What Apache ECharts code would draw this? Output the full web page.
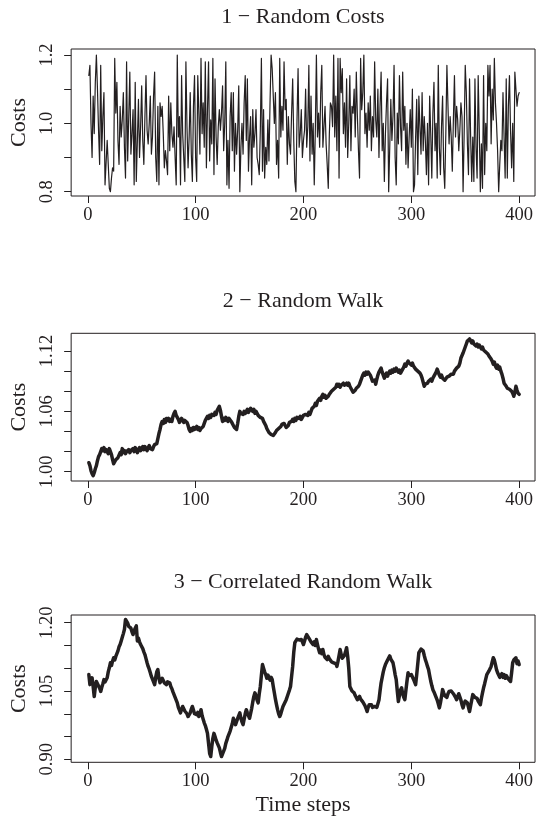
<!DOCTYPE html>
<html><head><meta charset="utf-8">
<script src="https://cdn.jsdelivr.net/npm/echarts@6/dist/echarts.min.js"></script>
<style>html,body{margin:0;padding:0;background:#fff}#c{width:536px;height:819px}</style>
</head><body><div id="c"></div>
<script>
const panelTitles = ['1 \u2212 Random Costs', '2 \u2212 Random Walk', '3 \u2212 Correlated Random Walk'];
const yAxisTitle = 'Costs';
const xAxisTitle = 'Time steps';

const randomCosts = [
1.14,1.17,1.00,0.90,1.08,0.97,1.12,1.20,1.10,0.98,
0.88,1.17,0.92,1.02,1.09,0.82,0.82,0.95,0.88,0.81,
0.80,0.84,0.87,0.86,1.19,1.03,1.12,0.95,0.88,1.05,
0.96,1.01,1.09,0.93,0.84,1.18,0.89,1.02,1.15,0.91,
0.97,1.04,0.82,1.12,0.83,0.95,1.07,0.90,0.99,1.11,
0.95,0.88,1.02,1.14,0.98,0.94,1.00,1.08,0.91,0.96,
1.08,1.15,0.90,0.83,1.05,0.82,1.06,1.02,1.05,0.97,
0.87,0.92,0.89,0.85,1.08,0.92,1.06,0.97,0.93,0.99,
0.90,0.82,1.20,0.96,1.02,0.82,1.14,0.97,0.90,0.83,
1.18,0.99,0.87,0.96,1.09,0.91,0.83,1.05,1.14,0.90,
0.83,1.14,1.03,0.91,1.19,0.97,1.06,0.93,1.18,0.87,
1.04,1.18,0.89,1.01,0.94,1.19,0.85,1.13,0.96,0.88,
0.99,1.04,0.98,1.03,1.11,0.92,1.00,1.18,0.82,0.95,
0.81,1.02,1.09,0.92,1.09,0.86,1.00,0.91,0.98,1.11,
0.80,0.93,1.00,0.91,1.06,1.14,0.95,1.13,0.86,0.96,
1.02,0.82,1.04,0.93,0.97,1.04,0.90,0.88,0.85,0.98,
1.19,0.86,1.04,0.84,0.93,0.88,1.01,0.89,1.06,1.20,
1.16,1.08,1.00,1.09,0.88,0.95,0.84,1.19,0.96,1.05,
0.98,1.18,1.04,1.07,0.88,1.02,0.94,0.91,1.03,1.13,
0.95,0.83,0.80,1.01,1.16,0.93,0.97,1.04,0.90,0.95,
0.98,1.10,0.93,0.99,1.17,0.89,1.08,0.91,1.00,0.82,
0.98,1.20,0.96,1.03,0.93,1.09,1.17,0.93,0.99,1.05,
0.94,0.88,0.81,0.97,1.06,1.05,0.99,1.20,0.96,1.08,
0.92,1.19,0.84,1.19,1.09,1.16,0.97,1.06,0.93,1.13,
0.90,1.00,1.14,0.92,1.05,1.03,1.10,0.96,1.15,1.02,
0.92,0.84,1.19,1.04,1.09,1.20,0.97,1.03,0.93,1.06,
0.98,1.08,0.92,1.02,0.96,1.18,1.01,0.96,1.10,0.90,
1.05,1.15,0.92,1.00,0.83,0.97,1.06,1.13,0.80,0.93,
1.07,0.95,1.02,1.17,0.90,0.82,1.03,0.94,1.14,0.99,
0.92,1.15,0.98,1.05,0.88,1.00,0.87,0.96,1.04,0.93,
1.10,0.80,0.82,0.96,1.07,0.85,1.08,0.99,0.91,1.09,
0.92,1.02,0.95,0.85,1.00,0.82,1.08,0.97,0.84,1.03,
1.12,0.92,1.00,0.84,1.17,0.93,0.85,0.99,1.08,0.87,
0.81,0.97,1.17,1.05,0.94,1.02,0.96,0.86,1.01,1.14,
0.96,1.05,1.01,0.92,0.98,1.06,1.02,0.80,0.97,1.17,
1.09,0.94,0.85,1.13,0.96,0.83,0.96,0.83,1.13,0.93,
0.84,1.14,0.98,0.80,0.94,0.81,1.14,0.85,1.00,0.92,
1.17,1.08,1.17,0.94,1.10,1.01,1.19,1.06,1.00,0.92,
0.80,0.88,0.95,0.92,1.09,0.96,0.84,1.13,0.84,1.05,
1.14,0.98,0.87,1.00,0.83,1.15,1.10,1.05,1.08,1.09
];

const randomWalk = [
1.009,1.006,1.001,0.998,0.996,0.999,1.003,1.006,1.011,1.015,
1.017,1.020,1.023,1.021,1.024,1.020,1.022,1.020,1.018,1.023,
1.022,1.017,1.012,1.008,1.010,1.012,1.011,1.014,1.015,1.019,
1.017,1.023,1.019,1.021,1.018,1.020,1.020,1.022,1.019,1.021,
1.020,1.023,1.020,1.024,1.022,1.019,1.022,1.024,1.021,1.023,
1.025,1.022,1.025,1.023,1.021,1.024,1.026,1.023,1.024,1.022,
1.025,1.027,1.026,1.028,1.033,1.038,1.042,1.047,1.050,1.048,
1.052,1.049,1.053,1.051,1.053,1.050,1.052,1.050,1.055,1.058,
1.060,1.056,1.054,1.052,1.049,1.050,1.053,1.051,1.049,1.051,
1.052,1.049,1.046,1.042,1.040,1.043,1.041,1.044,1.042,1.043,
1.045,1.042,1.044,1.041,1.043,1.042,1.045,1.048,1.051,1.053,
1.055,1.053,1.056,1.054,1.057,1.058,1.056,1.059,1.057,1.061,
1.063,1.065,1.061,1.055,1.050,1.053,1.051,1.054,1.052,1.050,
1.053,1.053,1.050,1.048,1.046,1.044,1.043,1.042,1.048,1.055,
1.060,1.058,1.059,1.057,1.060,1.058,1.060,1.062,1.059,1.061,
1.063,1.063,1.060,1.062,1.058,1.060,1.058,1.056,1.057,1.054,
1.055,1.053,1.050,1.048,1.046,1.043,1.041,1.039,1.038,1.037,
1.038,1.036,1.037,1.039,1.041,1.040,1.043,1.044,1.045,1.047,
1.046,1.048,1.046,1.044,1.043,1.046,1.049,1.048,1.050,1.052,
1.050,1.053,1.051,1.054,1.055,1.053,1.055,1.052,1.054,1.056,
1.055,1.057,1.058,1.056,1.059,1.057,1.060,1.063,1.062,1.065,
1.068,1.066,1.070,1.071,1.073,1.071,1.075,1.077,1.074,1.076,
1.073,1.072,1.075,1.077,1.076,1.080,1.079,1.082,1.081,1.084,
1.087,1.085,1.087,1.084,1.086,1.085,1.088,1.086,1.085,1.088,
1.086,1.088,1.085,1.083,1.081,1.079,1.078,1.081,1.083,1.082,
1.085,1.087,1.090,1.093,1.096,1.098,1.096,1.099,1.097,1.099,
1.100,1.096,1.093,1.090,1.089,1.091,1.087,1.092,1.096,1.099,
1.101,1.103,1.099,1.096,1.093,1.096,1.098,1.095,1.098,1.100,
1.098,1.101,1.099,1.102,1.100,1.103,1.101,1.099,1.101,1.098,
1.100,1.102,1.104,1.107,1.105,1.108,1.110,1.108,1.109,1.106,
1.108,1.105,1.104,1.102,1.103,1.100,1.101,1.098,1.096,1.093,
1.089,1.085,1.087,1.086,1.088,1.090,1.089,1.092,1.090,1.093,
1.095,1.097,1.099,1.102,1.099,1.096,1.094,1.096,1.093,1.094,
1.091,1.092,1.094,1.093,1.095,1.094,1.097,1.098,1.097,1.100,
1.101,1.103,1.102,1.105,1.108,1.113,1.114,1.118,1.121,1.124,
1.127,1.130,1.129,1.132,1.130,1.128,1.130,1.127,1.127,1.125,
1.127,1.124,1.126,1.125,1.122,1.124,1.121,1.122,1.119,1.120,
1.117,1.115,1.116,1.112,1.110,1.107,1.109,1.105,1.103,1.106,
1.102,1.104,1.100,1.097,1.093,1.088,1.087,1.085,1.083,1.084,
1.082,1.083,1.080,1.078,1.075,1.079,1.085,1.081,1.078,1.077
];

const correlatedWalk = [
1.086,1.064,1.072,1.079,1.060,1.038,1.058,1.071,1.066,1.064,
1.056,1.049,1.058,1.066,1.075,1.070,1.074,1.079,1.092,1.101,
1.112,1.106,1.116,1.123,1.118,1.126,1.130,1.138,1.147,1.152,
1.160,1.168,1.176,1.185,1.207,1.203,1.199,1.192,1.196,1.188,
1.180,1.174,1.182,1.188,1.193,1.160,1.166,1.158,1.152,1.149,
1.143,1.136,1.130,1.121,1.112,1.104,1.098,1.090,1.082,1.076,
1.070,1.064,1.080,1.092,1.097,1.078,1.068,1.072,1.078,1.075,
1.068,1.072,1.064,1.070,1.074,1.068,1.060,1.055,1.048,1.042,
1.036,1.030,1.024,1.014,1.008,1.002,1.010,1.016,1.012,1.006,
1.009,1.000,0.994,0.990,1.002,1.010,1.016,1.008,1.000,1.002,
0.998,1.003,0.994,0.999,1.009,0.996,0.988,0.980,0.974,0.966,
0.957,0.935,0.913,0.906,0.928,0.946,0.957,0.950,0.942,0.936,
0.932,0.925,0.915,0.906,0.912,0.918,0.924,0.935,0.942,0.950,
0.956,0.962,0.965,0.978,0.990,0.984,0.976,0.980,0.990,0.996,
1.002,0.990,0.982,0.976,0.988,1.000,1.009,1.002,0.996,0.990,
0.994,1.012,1.026,1.038,1.046,1.040,1.030,1.024,1.044,1.060,
1.085,1.108,1.100,1.092,1.086,1.078,1.085,1.082,1.074,1.080,
1.075,1.060,1.046,1.032,1.020,1.009,1.000,0.994,1.000,1.008,
1.016,1.020,1.026,1.031,1.038,1.045,1.052,1.060,1.082,1.104,
1.135,1.156,1.160,1.164,1.167,1.162,1.166,1.163,1.158,1.152,
1.160,1.168,1.174,1.170,1.166,1.163,1.158,1.154,1.152,1.158,
1.150,1.163,1.152,1.142,1.134,1.140,1.132,1.141,1.130,1.124,
1.128,1.119,1.126,1.121,1.119,1.114,1.118,1.112,1.116,1.110,
1.104,1.115,1.128,1.141,1.130,1.122,1.119,1.128,1.136,1.145,
1.126,1.100,1.060,1.055,1.050,1.052,1.046,1.040,1.036,1.031,
1.035,1.038,1.032,1.028,1.026,1.024,1.018,1.012,1.005,1.014,
1.020,1.018,1.020,1.014,1.018,1.016,1.020,1.014,1.016,1.030,
1.050,1.068,1.080,1.092,1.101,1.108,1.112,1.118,1.122,1.127,
1.120,1.116,1.112,1.100,1.086,1.075,1.050,1.027,1.040,1.052,
1.057,1.044,1.036,1.031,1.052,1.072,1.090,1.084,1.080,1.086,
1.082,1.076,1.070,1.064,1.086,1.110,1.134,1.138,1.142,1.145,
1.138,1.128,1.119,1.112,1.104,1.097,1.084,1.072,1.062,1.053,
1.048,1.042,1.038,1.030,1.022,1.013,1.024,1.038,1.053,1.046,
1.040,1.042,1.036,1.044,1.049,1.046,1.050,1.049,1.044,1.040,
1.036,1.031,1.038,1.044,1.042,1.030,1.020,1.013,1.022,1.028,
1.031,1.024,1.014,1.005,1.018,1.030,1.042,1.040,1.036,1.038,
1.034,1.028,1.024,1.020,1.034,1.046,1.057,1.066,1.076,1.086,
1.090,1.094,1.097,1.104,1.114,1.123,1.118,1.108,1.097,1.090,
1.086,1.080,1.082,1.088,1.080,1.086,1.078,1.084,1.082,1.076,
1.072,1.071,1.090,1.112,1.118,1.114,1.123,1.110,1.116,1.108
];

const xTicks = [0, 100, 200, 300, 400];
const yTicks = [
  [0.8, 0.9, 1.0, 1.1, 1.2],
  [1.00, 1.02, 1.04, 1.06, 1.08, 1.10, 1.12],
  [0.90, 0.95, 1.00, 1.05, 1.10, 1.15, 1.20]
];
const yLabels = [
  [0.8, 1.0, 1.2],
  [1.00, 1.06, 1.12],
  [0.90, 1.05, 1.20]
];
const yDecimals = [1, 2, 2];

const seriesValues = [randomCosts, randomWalk, correlatedWalk];
const lineWidths = [1.2, 3.5, 3.5];
const gridTops = [49, 333.3, 615];
const gridHeights = [147, 147.7, 147.3];
const yRanges = [[0.7874, 1.2176], [0.9908, 1.1376], [0.8934, 1.2169]];
const titleTops = [6.5, 290.5, 571.5];

const FONT = '"Liberation Serif","DejaVu Serif",serif';
const INK = '#231f20';

const chart = echarts.init(document.getElementById('c'), null, {renderer: 'canvas'});
const option = {
  animation: false,
  backgroundColor: '#fff',
  title: panelTitles.map((t, i) => ({
    text: t, left: 303, top: titleTops[i], textAlign: 'center', padding: 0,
    textStyle: {fontFamily: FONT, fontSize: 22, fontWeight: 'normal', color: INK, lineHeight: 22}
  })),
  grid: [0, 1, 2].map(i => ({
    left: 70, right: 0, top: gridTops[i], height: gridHeights[i],
    show: true, borderColor: INK, borderWidth: 1, backgroundColor: 'transparent', containLabel: false
  })),
  xAxis: [0, 1, 2].map(i => ({
    type: 'value', gridIndex: i, min: -15.4, max: 414.7, position: 'bottom',
    axisLine: {show: false, onZero: false},
    splitLine: {show: false},
    axisTick: {show: true, length: 7, inside: false, customValues: xTicks, lineStyle: {color: INK, width: 1}},
    axisLabel: {show: true, customValues: xTicks, margin: 9.5, fontFamily: FONT, fontSize: 18.5, lineHeight: 18.5, color: INK},
    name: i === 2 ? xAxisTitle : '',
    nameLocation: 'middle', nameGap: 32,
    nameTextStyle: {fontFamily: FONT, fontSize: 22, lineHeight: 22, color: INK}
  })),
  yAxis: [0, 1, 2].map(i => ({
    type: 'value', gridIndex: i, min: yRanges[i][0], max: yRanges[i][1], position: 'left',
    axisLine: {show: false, onZero: false},
    splitLine: {show: false},
    axisTick: {show: true, length: 7, inside: false, customValues: yTicks[i], lineStyle: {color: INK, width: 1}},
    axisLabel: {show: true, customValues: yLabels[i], rotate: 90, margin: 14.5,
      fontFamily: FONT, fontSize: 18.5, lineHeight: 18.5, color: INK,
      formatter: v => Number(v).toFixed(yDecimals[i])},
    name: yAxisTitle, nameLocation: 'middle', nameRotate: 90, nameGap: 39.5,
    nameTextStyle: {fontFamily: FONT, fontSize: 22, lineHeight: 22, color: INK}
  })),
  series: seriesValues.map((vals, i) => ({
    type: 'line', xAxisIndex: i, yAxisIndex: i,
    data: vals.map((v, k) => [k + 1, v]),
    showSymbol: false, symbol: 'none',
    lineStyle: {color: INK, width: lineWidths[i], join: 'round', cap: 'round'},
    clip: true, silent: true
  }))
};
chart.setOption(option);
</script>
</body></html>
